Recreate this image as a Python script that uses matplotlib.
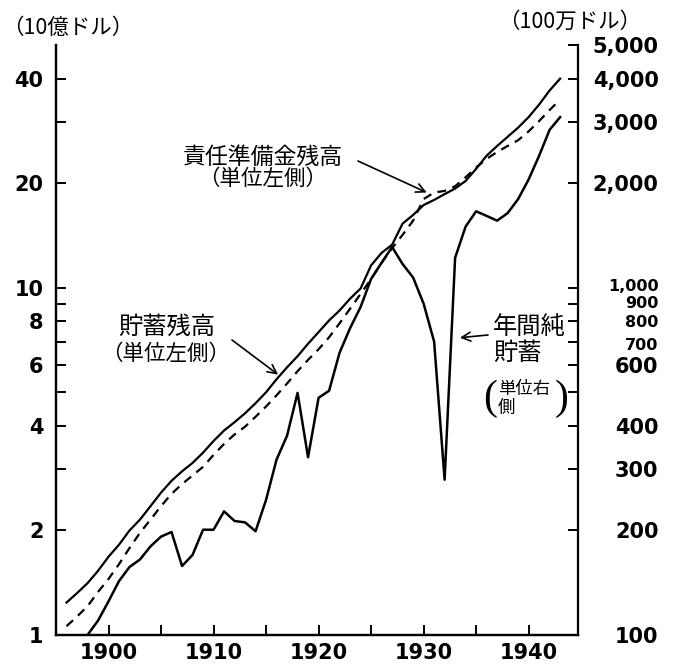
import numpy as np
import matplotlib.pyplot as plt
from matplotlib.transforms import offset_copy

plt.rcParams['font.family'] = ['DejaVu Sans']
JP = ['Noto Sans CJK JP', 'DejaVu Sans']

# 年次データ (残高: 10億ドル, 年間純貯蓄: 100万ドル)
years = np.arange(1896, 1944)
savings_balance = [1.24, 1.32, 1.41, 1.53, 1.68, 1.82, 2.00, 2.15, 2.35, 2.57,
                   2.78, 2.96, 3.13, 3.35, 3.62, 3.88, 4.10, 4.35, 4.65, 5.00,
                   5.45, 5.90, 6.35, 6.90, 7.45, 8.05, 8.60, 9.30, 9.95, 11.6,
                   12.6, 13.3, 15.3, 16.2, 17.3, 17.9, 18.6, 19.3, 20.3, 22.0,
                   24.0, 25.6, 27.2, 28.9, 31.0, 33.7, 37.0, 40.0]
reserve_balance = [1.06, 1.13, 1.21, 1.33, 1.45, 1.60, 1.78, 1.97, 2.15, 2.35,
                   2.55, 2.72, 2.88, 3.05, 3.30, 3.55, 3.78, 3.98, 4.25, 4.55,
                   4.90, 5.30, 5.75, 6.20, 6.65, 7.20, 7.90, 8.70, 9.60, 10.6,
                   11.8, 13.0, 14.2, 15.6, 18.0, 18.8, 19.0, 19.6, 20.8, 22.2,
                   23.5, 24.6, 25.6, 26.6, 28.2, 30.2, 32.5, 34.8]
net_years = np.arange(1898, 1944)
net_savings = [100, 110, 125, 143, 157, 165, 180, 192, 198, 158,
               170, 201, 201, 227, 213, 211, 199, 245, 320, 375,
               498, 325, 482, 505, 650, 765, 880, 1060, 1180, 1310,
               1170, 1070, 900, 700, 280, 1220, 1500, 1660, 1610, 1560,
               1640, 1800, 2050, 2400, 2850, 3100]

left_ticks = [1, 2, 4, 6, 8, 10, 20, 40]
left_minor = [3, 5, 7, 9, 30]
right_ticks = [100, 200, 300, 400, 500, 600, 700, 800, 900, 1000, 2000, 3000, 4000, 5000]
right_labels = ['100', '200', '300', '400', '', '600', '700', '800', '900',
                '1,000', '2,000', '3,000', '4,000', '5,000']
year_ticks = [1900, 1910, 1920, 1930, 1940]
year_minor = [1905, 1915, 1925, 1935]

W, H = 676, 664
fig = plt.figure(figsize=(W / 100, H / 100), dpi=100)


def px(x, y):
    return (x / W, 1 - y / H)


ax = fig.add_axes([56 / W, 1 - 635 / H, (578 - 56) / W, (635 - 45) / H])
ax2 = ax.twinx()

ax.plot(years, savings_balance, color='black', lw=1.6)
ax.plot(years, reserve_balance, color='black', lw=1.6, ls=(0, (4, 3)))
ax2.plot(net_years, net_savings, color='black', lw=1.8)

ax.set_xlim(1895, 1944.7)
ax.set_yscale('log')
ax.set_ylim(1, 50)
ax2.set_yscale('log')
ax2.set_ylim(100, 5000)

ax.set_xticks(year_ticks)
ax.set_xticklabels([str(y) for y in year_ticks])
ax.set_xticks(year_minor, minor=True)
ax.set_yticks(left_ticks)
ax.set_yticklabels([str(v) for v in left_ticks])
ax.set_yticks(left_minor, minor=True)
ax.set_yticklabels([], minor=True)

ax2.set_yticks(right_ticks)
ax2.set_yticklabels(right_labels)
ax2.set_yticks([], minor=True)

for a in (ax, ax2):
    a.spines['top'].set_visible(False)
    for s in a.spines.values():
        s.set_linewidth(1.6)
ax.spines['right'].set_visible(False)

ax.tick_params(axis='both', which='both', direction='in', length=7, width=1.4,
               labelsize=15)
ax.tick_params(axis='x', pad=6)
ax.tick_params(axis='y', pad=9)
ax2.tick_params(axis='y', which='both', direction='in', length=7, width=1.4,
                labelsize=15, pad=58)
for lab in ax.get_xticklabels() + ax.get_yticklabels():
    lab.set_fontweight('bold')

# 1,000〜700 は間隔が狭いので小さくして少しずらす
squeeze = {'1,000': 3, '900': 2, '800': 0, '700': -2}
for lab in ax2.get_yticklabels():
    lab.set_horizontalalignment('right')
    lab.set_fontweight('bold')
    t = lab.get_text()
    if t in squeeze:
        lab.set_fontsize(11.5)
        lab.set_transform(offset_copy(lab.get_transform(), fig=fig,
                                      y=squeeze[t], units='dots'))

# 単位
fig.text(*px(68, 28), '（10億ドル）', family=JP, fontsize=15.5, ha='center', va='center')
fig.text(*px(570, 22), '（100万ドル）', family=JP, fontsize=15.5, ha='center', va='center')

# 責任準備金残高
fig.text(*px(263, 157), '責任準備金残高', family=JP, fontsize=16.5, ha='center', va='center')
fig.text(*px(263, 179), '（単位左側）', family=JP, fontsize=15.5, ha='center', va='center')
ax.annotate('', xy=(1930.3, 18.8), xycoords='data',
            xytext=px(358, 161), textcoords='figure fraction',
            arrowprops=dict(arrowstyle='->', lw=1.2, mutation_scale=16,
                            color='black', shrinkA=0, shrinkB=0))

# 貯蓄残高
fig.text(*px(167, 327), '貯蓄残高', family=JP, fontsize=17.5, ha='center', va='center')
fig.text(*px(166, 354), '（単位左側）', family=JP, fontsize=15.5, ha='center', va='center')
ax.annotate('', xy=(1916.15, 5.62), xycoords='data',
            xytext=px(232, 340), textcoords='figure fraction',
            arrowprops=dict(arrowstyle='->', lw=1.2, mutation_scale=16,
                            color='black', shrinkA=0, shrinkB=0))

# 年間純貯蓄
fig.text(*px(493, 327), '年間純', family=JP, fontsize=17.5, ha='left', va='center')
fig.text(*px(493, 353), '貯蓄', family=JP, fontsize=17.5, ha='left', va='center')
fig.text(*px(498, 389), '単位右', family=JP, fontsize=12.5, ha='left', va='center')
fig.text(*px(498, 408), '側', family=JP, fontsize=12.5, ha='left', va='center')
fig.text(*px(497, 399), '(', family='Liberation Serif', fontsize=30, ha='right', va='center')
fig.text(*px(555, 399), ')', family='Liberation Serif', fontsize=30, ha='left', va='center')
ax2.annotate('', xy=(1933.45, 718), xycoords='data',
             xytext=px(488, 335), textcoords='figure fraction',
             arrowprops=dict(arrowstyle='->', lw=1.2, mutation_scale=16,
                             color='black', shrinkA=0, shrinkB=0))

fig.savefig('out.png', dpi=100)
